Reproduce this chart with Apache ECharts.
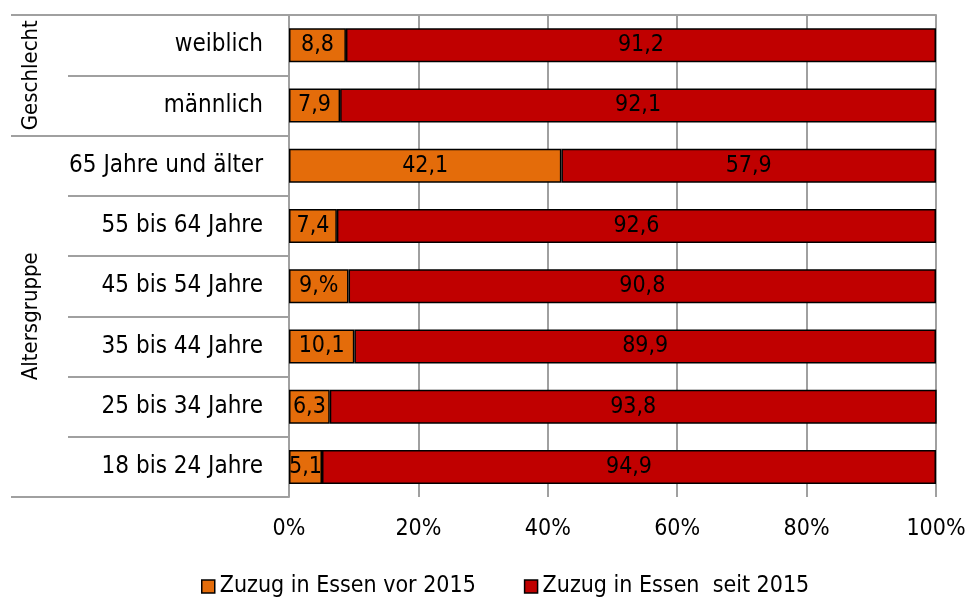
<!DOCTYPE html>
<html>
<head>
    <meta charset="utf-8">
    <title>Zuzug in Essen</title>
    <script src="https://cdn.jsdelivr.net/npm/echarts@6/dist/echarts.min.js"></script>
</head>
<body style="margin:0">
    <div id="main" style="width: 970px;height:598px;"></div>
    <script type="text/javascript">
        // Kategorien von oben nach unten
        var categories = ['weiblich', 'männlich', '65 Jahre und älter', '55 bis 64 Jahre',
            '45 bis 54 Jahre', '35 bis 44 Jahre', '25 bis 34 Jahre', '18 bis 24 Jahre'];
        var vor2015 = [8.8, 7.9, 42.1, 7.4, 9.2, 10.1, 6.3, 5.1];
        var seit2015 = [91.2, 92.1, 57.9, 92.6, 90.8, 89.9, 93.8, 94.9];
        // Beschriftungen so wie im Original (inkl. "9,%")
        var vorLabels = ['8,8', '7,9', '42,1', '7,4', '9,%', '10,1', '6,3', '5,1'];
        var groups = ['Geschlecht', 'Altersgruppe'];
        var groupBounds = [0, 2, 8];   // Gruppengrenzen in Kategorien
        var groupCenters = [1, 5];
        var xTicks = [0, 20, 40, 60, 80, 100];

        var font = 'DejaVu Sans Condensed';
        var grau = '#a0a0a0';

        var myChart = echarts.init(document.getElementById('main'));

        var option = {
            animation: false,
            textStyle: { fontFamily: font },
            grid: { left: 289, right: 34, top: 15, bottom: 101 },
            legend: {
                bottom: -5,
                left: 196,
                itemWidth: 13,
                itemHeight: 13,
                itemGap: 48,
                icon: 'rect',
                itemStyle: { borderColor: '#000', borderWidth: 1.5 },
                textStyle: { fontSize: 23, color: '#000', fontFamily: font },
                data: ['Zuzug in Essen vor 2015', 'Zuzug in Essen  seit 2015']
            },
            xAxis: {
                type: 'value',
                min: 0, max: 100, interval: 20,
                axisLine: { show: true, lineStyle: { color: grau, width: 2 } },
                axisTick: { show: true, length: 8, lineStyle: { color: grau, width: 2 } },
                splitLine: { show: true, lineStyle: { color: grau, width: 2 } },
                axisLabel: {
                    color: '#000', fontSize: 23, margin: 21,
                    formatter: function (v) { return xTicks.indexOf(v) >= 0 ? v + '%' : ''; }
                }
            },
            yAxis: [{
                type: 'category',
                inverse: true,
                data: categories,
                axisLine: { show: true, lineStyle: { color: grau, width: 2 } },
                axisTick: { show: true, length: 221, lineStyle: { color: grau, width: 2 } },
                axisLabel: { color: '#000', fontSize: 24, margin: 26 }
            }, {
                type: 'value',
                inverse: true,
                min: 0, max: categories.length,
                position: 'left',
                axisLine: { show: false },
                splitLine: { show: false },
                axisTick: {
                    show: true, length: 278, customValues: groupBounds,
                    lineStyle: { color: grau, width: 2 }
                },
                axisLabel: {
                    show: true, customValues: groupCenters, rotate: 90, margin: 247,
                    color: '#000', fontSize: 22,
                    formatter: function (v) { return groups[groupCenters.indexOf(v)]; }
                }
            }],
            series: [{
                name: 'Zuzug in Essen vor 2015',
                type: 'bar',
                stack: 'gesamt',
                barWidth: 34,
                data: vor2015,
                itemStyle: { color: '#e46c0a', borderColor: '#000', borderWidth: 1.5 },
                label: {
                    show: true, position: 'inside', color: '#000', fontSize: 23,
                    formatter: function (p) { return vorLabels[p.dataIndex]; }
                }
            }, {
                name: 'Zuzug in Essen  seit 2015',
                type: 'bar',
                stack: 'gesamt',
                barWidth: 34,
                data: seit2015,
                itemStyle: { color: '#c00000', borderColor: '#000', borderWidth: 1.5 },
                label: {
                    show: true, position: 'inside', color: '#000', fontSize: 23,
                    formatter: function (p) { return String(p.value).replace('.', ','); }
                }
            }]
        };

        myChart.setOption(option);
    </script>
</body>
</html>
